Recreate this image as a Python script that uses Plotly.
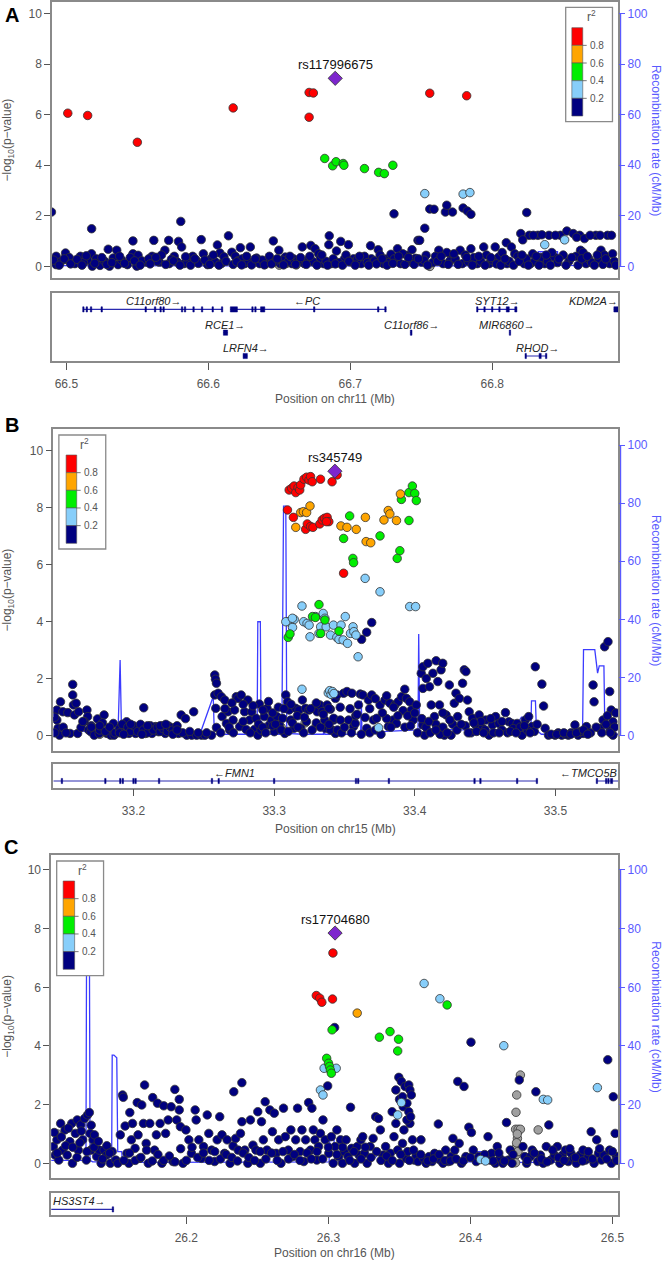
import plotly.graph_objects as go

# ======================= DATA =======================
# ---------- Panel A (chr11) ----------
A_xrange = [66.4899, 66.8887]
A_xticks = [66.5, 66.6, 66.7, 66.8]
A_xtitle = "Position on chr11 (Mb)"
A_lead = (66.6894, 7.44)
A_lead_name = "rs117996675"
A_red = [(66.501, 6.06), (66.515, 5.97), (66.550, 4.91), (66.6175, 6.27), (66.671, 6.88),
         (66.674, 6.86), (66.671, 5.90), (66.756, 6.85), (66.782, 6.75)]
A_orange = []
A_green = [(66.682, 4.27), (66.6876, 3.98), (66.690, 4.14), (66.695, 4.07), (66.6955, 4.0),
           (66.710, 3.87), (66.720, 3.72), (66.724, 3.67), (66.730, 4.0)]
A_lblue = [(66.7525, 2.88), (66.7795, 2.86), (66.7843, 2.92), (66.837, 0.86), (66.851, 1.05)]
A_gray = [(66.640, 0.08), (66.645, 0.15), (66.650, 0.05), (66.655, 0.12), (66.662, 0.06), (66.7561, 0.0)]
A_navy = [
    (66.4895, 2.15), (66.5178, 1.49), (66.5806, 1.78), (66.7308, 2.08), (66.7525, 1.51), (66.7477, 1.03),
    (66.7560, 2.27), (66.7590, 2.26), (66.7670, 2.15), (66.7680, 2.42), (66.7720, 2.15), (66.7795, 2.31),
    (66.7825, 2.19), (66.7850, 2.06), (66.8243, 2.13),
    (66.4928, 0.40), (66.4928, 0.07), (66.4994, 0.53), (66.5000, 0.27), (66.5060, 0.11), (66.5099, 0.40),
    (66.5150, 0.24), (66.5177, 0.50), (66.5183, 0.01), (66.5237, 0.04), (66.5295, 0.68), (66.5304, 0.01),
    (66.5355, 0.64), (66.5364, 0.07), (66.5430, 0.07), (66.5469, 1.01), (66.5469, 0.50), (66.5496, 0.01),
    (66.5505, 0.44), (66.5565, 0.17), (66.5616, 1.03), (66.5604, 0.40), (66.5655, 0.17), (66.5694, 0.64),
    (66.5721, 1.03), (66.5724, 0.11), (66.5760, 0.40), (66.5790, 0.99), (66.5812, 0.77), (66.5827, 0.11),
    (66.5866, 0.32), (66.5914, 0.24), (66.5950, 1.06), (66.5965, 0.50), (66.5995, 0.07), (66.6064, 0.85),
    (66.6082, 0.53), (66.6091, 0.11), (66.6142, 1.21), (66.6166, 0.56), (66.6190, 0.40), (66.6226, 0.74),
    (66.6256, 0.11), (66.6296, 0.77), (66.6317, 0.17), (66.6362, 0.11), (66.6416, 0.17), (66.6458, 1.01),
    (66.6497, 0.64), (66.6506, 0.11), (66.6542, 0.37), (66.6590, 0.11), (66.6662, 0.77), (66.6677, 0.11),
    (66.6722, 0.83), (66.6752, 0.70), (66.6777, 0.50), (66.6813, 0.11), (66.6852, 1.21), (66.6849, 0.86),
    (66.6864, 0.11), (66.6903, 0.61), (66.6933, 0.99), (66.6957, 0.28), (66.6987, 0.86), (66.7023, 0.30),
    (66.7077, 0.11), (66.7143, 0.82), (66.7149, 0.30), (66.7197, 0.66), (66.7233, 0.11), (66.7248, 0.29),
    (66.7287, 0.48), (66.7333, 0.70), (66.7354, 0.11), (66.7399, 0.44), (66.7435, 0.66), (66.7489, 1.03),
    (66.7504, 0.17), (66.7534, 0.44), (66.7624, 0.64), (66.7654, 0.11), (66.7714, 0.37), (66.7774, 0.64),
    (66.7789, 0.11), (66.7850, 0.70), (66.7895, 0.11), (66.7940, 0.77), (66.7979, 0.11), (66.8021, 0.77),
    (66.8045, 0.37), (66.8099, 0.94), (66.8105, 0.11), (66.8135, 0.77), (66.8159, 0.50), (66.8201, 1.30),
    (66.8225, 0.11), (66.8261, 1.23), (66.8270, 0.11), (66.8285, 0.50), (66.8322, 1.23), (66.8370, 0.11),
    (66.8400, 1.23), (66.8436, 0.37), (66.8481, 1.23), (66.8526, 1.40), (66.8571, 1.30), (66.8616, 1.23),
    (66.8622, 0.64), (66.8661, 0.11), (66.8730, 1.23), (66.8766, 0.64), (66.8812, 1.23), (66.8827, 0.11),
    (66.8848, 0.50), (66.8215, 1.05), (66.8290, 1.23), (66.8350, 1.25), (66.8445, 1.23), (66.8595, 1.15),
    (66.8650, 1.10), (66.8690, 1.23), (66.8760, 1.23), (66.8840, 1.23),
    (66.4960, 0.18), (66.5020, 0.35), (66.5120, 0.15), (66.5210, 0.30), (66.5270, 0.20), (66.5330, 0.33),
    (66.5390, 0.25), (66.5450, 0.35), (66.5530, 0.22), (66.5580, 0.30), (66.5640, 0.20), (66.5670, 0.45),
    (66.5740, 0.28), (66.5780, 0.18), (66.5850, 0.15), (66.5890, 0.40), (66.5930, 0.12), (66.6020, 0.30),
    (66.6050, 0.18), (66.6110, 0.38), (66.6210, 0.22), (66.6240, 0.30), (66.6280, 0.20), (66.6340, 0.33),
    (66.6380, 0.25), (66.6430, 0.40), (66.6470, 0.20), (66.6520, 0.25), (66.6560, 0.18), (66.6600, 0.30),
    (66.6630, 0.22), (66.6700, 0.25), (66.6740, 0.18), (66.6790, 0.33), (66.6830, 0.20), (66.6880, 0.30),
    (66.6920, 0.15), (66.6970, 0.45), (66.7000, 0.18), (66.7050, 0.28), (66.7100, 0.40), (66.7120, 0.15),
    (66.7170, 0.22), (66.7210, 0.45), (66.7270, 0.15), (66.7310, 0.30), (66.7370, 0.50), (66.7420, 0.20),
    (66.7460, 0.32), (66.7520, 0.25), (66.7580, 0.15), (66.7600, 0.40), (66.7680, 0.55), (66.7700, 0.20),
    (66.7740, 0.30), (66.7810, 0.45), (66.7830, 0.20), (66.7870, 0.35), (66.7920, 0.20), (66.7960, 0.45),
    (66.8000, 0.25), (66.8070, 0.55), (66.8120, 0.20), (66.8180, 0.40), (66.8240, 0.30), (66.8300, 0.20),
    (66.8340, 0.35), (66.8390, 0.20), (66.8420, 0.55), (66.8460, 0.15), (66.8500, 0.45), (66.8540, 0.20),
    (66.8590, 0.40), (66.8640, 0.55), (66.8680, 0.30), (66.8700, 0.15), (66.8750, 0.30), (66.8790, 0.45),
    (66.8860, 0.20),
    (66.4910, 0.25), (66.4950, 0.05), (66.4985, 0.30), (66.5030, 0.10), (66.5075, 0.28), (66.5110, 0.05),
    (66.5140, 0.42), (66.5200, 0.12), (66.5250, 0.35), (66.5285, 0.08), (66.5320, 0.15), (66.5375, 0.40),
    (66.5410, 0.12), (66.5480, 0.22), (66.5520, 0.05), (66.5590, 0.10), (66.5630, 0.36), (66.5700, 0.08),
    (66.5755, 0.22), (66.5800, 0.05), (66.5840, 0.38), (66.5875, 0.05), (66.5905, 0.30), (66.5975, 0.25),
    (66.6010, 0.08), (66.6035, 0.45), (66.6075, 0.05), (66.6125, 0.20), (66.6175, 0.08), (66.6200, 0.18),
    (66.6235, 0.06), (66.6270, 0.40), (66.6305, 0.06), (66.6330, 0.30), (66.6395, 0.06), (66.6445, 0.10),
    (66.6485, 0.30), (66.6530, 0.06), (66.6575, 0.40), (66.6615, 0.08), (66.6650, 0.35), (66.6690, 0.08),
    (66.6715, 0.40), (66.6765, 0.05), (66.6800, 0.45), (66.6840, 0.05), (66.6895, 0.10), (66.6945, 0.05),
    (66.6990, 0.20), (66.7035, 0.05), (66.7065, 0.40), (66.7130, 0.05), (66.7185, 0.10), (66.7225, 0.30),
    (66.7260, 0.05), (66.7300, 0.12), (66.7340, 0.40), (66.7385, 0.08), (66.7410, 0.35), (66.7450, 0.08),
    (66.7480, 0.30), (66.7545, 0.05), (66.7615, 0.20), (66.7640, 0.40), (66.7690, 0.08), (66.7730, 0.50),
    (66.7760, 0.08), (66.7820, 0.35), (66.7860, 0.05), (66.7905, 0.40), (66.7950, 0.05), (66.7990, 0.35),
    (66.8030, 0.10), (66.8060, 0.05), (66.8090, 0.30), (66.8150, 0.05), (66.8190, 0.20), (66.8210, 0.45),
    (66.8255, 0.05), (66.8310, 0.40), (66.8330, 0.05), (66.8380, 0.45), (66.8410, 0.05), (66.8470, 0.30),
    (66.8520, 0.05), (66.8560, 0.35), (66.8605, 0.05), (66.8630, 0.30), (66.8670, 0.40), (66.8720, 0.05),
    (66.8740, 0.45), (66.8780, 0.08), (66.8800, 0.30), (66.8870, 0.05)]
A_recomb_x = [66.4899, 66.60, 66.70, 66.80, 66.815, 66.825, 66.832, 66.8325, 66.846, 66.8465, 66.86, 66.8887]
A_recomb_y = [0.3, 0.2, 0.1, 0.2, 0.5, 1.2, 1.5, 5.8, 5.8, 0.5, 0.3, 0.2]
A_gene_names = ["C11orf80", "PC", "SYT12", "KDM2A", "RCE1", "C11orf86", "MIR6860", "LRFN4", "RHOD"]
A_gene_strand = ["+", "-", "+", "+", "+", "+", "+", "+", "+"]
A_gene_start = [66.512, 66.6155, 66.7895, 66.8857, 66.6106, 66.7423, 66.8122, 66.6245, 66.8234]
A_gene_end = [66.6100, 66.7254, 66.8174, 66.8887, 66.6136, 66.7435, 66.8128, 66.6275, 66.8385]
A_gene_row = [1, 1, 1, 1, 2, 2, 2, 3, 3]
A_gene_label_x = [66.5616, 66.6698, 66.8039, 66.8714, 66.6121, 66.7430, 66.8105, 66.6265, 66.8316]
A_gene_exons = [
    [66.512, 66.5144, 66.5174, 66.5249, 66.5559, 66.5625, 66.5664, 66.5685, 66.5815, 66.5836,
     66.5896, 66.5956, 66.6031, 66.6097],
    [(66.6155, 66.6205), 66.6311, 66.6332, (66.6368, 66.6398), 66.6746, 66.7197, 66.7248],
    [66.7895, 66.7946, 66.8000, 66.8051, (66.8099, 66.8120), (66.8159, 66.8174)],
    [(66.8857, 66.8887)],
    [(66.6106, 66.6136)],
    [(66.7423, 66.7435)],
    [66.8125],
    [(66.6245, 66.6275)],
    [66.8236, (66.8330, 66.8345), (66.8375, 66.8385)]]

# ---------- Panel B (chr15) ----------
B_xrange = [33.143, 33.5446]
B_xticks = [33.2, 33.3, 33.4, 33.5]
B_xtitle = "Position on chr15 (Mb)"
B_lead = (33.3432, 9.28)
B_lead_name = "rs345749"
B_red = [(33.3107, 8.62), (33.3125, 8.68), (33.3142, 8.76), (33.3154, 8.53), (33.3170, 8.71), (33.3182, 8.62),
         (33.3189, 8.80), (33.3212, 9.00), (33.3231, 9.07), (33.3248, 8.97), (33.3259, 9.09), (33.3271, 8.91),
         (33.3330, 9.00), (33.3412, 8.91), (33.3448, 9.15),
         (33.3095, 7.92), (33.3137, 7.66), (33.3224, 7.24), (33.3236, 7.43), (33.3259, 7.34), (33.3276, 7.31),
         (33.3325, 7.43), (33.3342, 7.57), (33.3358, 7.63), (33.3377, 7.66), (33.3389, 7.51), (33.3372, 7.51),
         (33.3494, 5.70)]
B_orange = [(33.3154, 7.31), (33.3189, 7.83), (33.3208, 7.86), (33.3231, 7.83), (33.3255, 8.06), (33.3475, 7.36),
            (33.3518, 7.31), (33.3584, 7.24), (33.3649, 7.66), (33.3654, 6.81), (33.3687, 6.77), (33.3781, 7.57),
            (33.3811, 7.90), (33.3823, 7.78), (33.3870, 7.55), (33.3898, 8.48)]
B_green = [(33.3537, 7.71), (33.3494, 6.92), (33.3560, 6.22), (33.3565, 6.07), (33.3753, 7.01), (33.3894, 6.49),
           (33.3875, 6.22), (33.3905, 8.29), (33.3959, 8.53), (33.3983, 8.76), (33.4000, 8.50), (33.4011, 8.25),
           (33.3959, 7.55),
           (33.3100, 3.45), (33.3113, 3.57), (33.3273, 4.18), (33.3294, 4.15), (33.3319, 4.60), (33.3331, 3.59),
           (33.3361, 4.06), (33.3461, 3.67)]
B_lblue = [(33.3647, 5.52), (33.3753, 5.05), (33.3964, 4.53), (33.4006, 4.53),
           (33.3100, 4.00), (33.3131, 3.80), (33.3143, 4.08), (33.3198, 4.55), (33.3210, 4.00), (33.3234, 3.94),
           (33.3255, 3.47), (33.3249, 3.88), (33.3294, 4.18), (33.3319, 3.59), (33.3331, 3.82), (33.3349, 4.29),
           (33.3361, 4.12), (33.3370, 3.82), (33.3401, 3.53), (33.3422, 3.88), (33.3446, 3.45), (33.3461, 3.38),
           (33.3476, 3.88), (33.3491, 3.36), (33.3506, 4.18), (33.3522, 3.24), (33.3543, 3.59), (33.3561, 3.82),
           (33.3567, 3.65), (33.3582, 3.53), (33.3597, 2.77), (33.3083, 4.00), (33.3130, 4.12),
           (33.3198, 1.63), (33.3385, 1.50), (33.3395, 1.58), (33.3405, 1.45), (33.3415, 1.55), (33.3425, 1.48),
           (33.3743, 0.28)]
B_gray = [(33.172, 0.12), (33.176, 0.05), (33.180, 0.10), (33.305, 0.30), (33.322, 0.45), (33.330, 0.35)]
B_navy = [
    (33.3622, 3.38), (33.3658, 3.63), (33.3694, 3.97),
    (33.1455, 0.90), (33.1455, 0.55), (33.1463, 0.26), (33.1474, 0.02), (33.1481, 1.19), (33.1498, 0.84),
    (33.1533, 0.81), (33.1549, 0.08), (33.1568, 1.80), (33.1568, 1.43), (33.1573, 1.08), (33.1580, 0.73),
    (33.1592, 1.14), (33.1603, 0.08), (33.1610, 0.84), (33.1627, 0.29), (33.1669, 0.90), (33.1674, 0.67),
    (33.1681, 0.20), (33.1697, 0.14), (33.1721, 0.02), (33.1744, 0.59), (33.1756, 0.08), (33.1791, 0.73),
    (33.1815, 0.08), (33.1838, 0.02), (33.1857, 0.43), (33.1862, 0.02), (33.1951, 0.49), (33.1944, 0.20),
    (33.1968, 0.08), (33.1991, 0.26), (33.2015, 0.08), (33.2038, 0.29), (33.2073, 0.98), (33.2085, 0.08),
    (33.2109, 0.26), (33.2132, 0.08), (33.2156, 0.32), (33.2179, 0.14), (33.2202, 0.34), (33.2226, 0.08),
    (33.2249, 0.34), (33.2273, 0.14), (33.2296, 0.29), (33.2320, 0.08), (33.2339, 0.73), (33.2379, 0.02),
    (33.2414, 0.02), (33.2428, 0.84), (33.2449, 0.02), (33.2484, 0.02), (33.2508, 0.02), (33.2555, 0.02),
    (33.2578, 2.13), (33.2583, 1.98), (33.2590, 1.84), (33.2578, 1.43), (33.2585, 0.96), (33.2590, 0.29),
    (33.2602, 1.49), (33.2625, 1.37), (33.2630, 0.67), (33.2649, 1.25), (33.2661, 0.43), (33.2672, 0.84),
    (33.2684, 0.20), (33.2708, 0.55), (33.2719, 0.90), (33.2731, 1.37), (33.2743, 1.31), (33.2755, 0.32),
    (33.2766, 1.43), (33.2790, 0.84), (33.2801, 0.22), (33.2813, 1.25), (33.2825, 0.55), (33.2841, 0.84),
    (33.2860, 0.22), (33.2872, 0.61), (33.2884, 0.02), (33.2895, 1.11), (33.2907, 0.20), (33.2931, 0.67),
    (33.2950, 0.96), (33.2966, 0.38), (33.2982, 0.55), (33.3001, 0.14), (33.3020, 0.67), (33.3036, 0.38),
    (33.3060, 0.61), (33.3076, 0.08), (33.3083, 1.43), (33.3095, 1.19), (33.3107, 0.90), (33.3118, 0.55),
    (33.3142, 0.26), (33.3154, 0.96), (33.3177, 0.90), (33.3189, 0.26), (33.3201, 1.25), (33.3224, 0.96),
    (33.3248, 0.90), (33.3283, 0.96), (33.3306, 0.84), (33.3325, 1.08), (33.3342, 0.84), (33.3365, 0.26),
    (33.3377, 1.08), (33.3400, 0.93), (33.3412, 0.20), (33.3424, 0.55), (33.3436, 0.08),
    (33.3389, 0.96), (33.3400, 0.20), (33.3424, 0.61), (33.3436, 1.31), (33.3447, 1.43), (33.3471, 0.55),
    (33.3494, 1.49), (33.3518, 1.55), (33.3530, 0.55), (33.3553, 1.49), (33.3565, 0.32), (33.3577, 0.43),
    (33.3600, 1.08), (33.3612, 1.46), (33.3631, 1.43), (33.3647, 0.64), (33.3659, 0.26), (33.3671, 1.25),
    (33.3694, 1.43), (33.3706, 0.55), (33.3729, 0.61), (33.3753, 1.08), (33.3788, 1.25), (33.3812, 0.32),
    (33.3823, 1.14), (33.3847, 0.55), (33.3859, 1.08), (33.3870, 0.43), (33.3882, 1.19), (33.3906, 1.37),
    (33.3917, 0.88), (33.3929, 1.63), (33.3941, 1.31), (33.3964, 1.19), (33.3976, 0.90), (33.3988, 0.55),
    (33.4011, 1.08), (33.4046, 2.19), (33.4058, 2.42), (33.4058, 1.66), (33.4058, 0.38), (33.4070, 0.02),
    (33.4082, 2.01), (33.4093, 2.54), (33.4105, 1.72), (33.4117, 1.08), (33.4129, 2.19), (33.4140, 0.67),
    (33.4152, 2.63), (33.4164, 1.90), (33.4176, 1.08), (33.4187, 2.31), (33.4187, 0.26), (33.4199, 2.54),
    (33.4211, 0.02), (33.4223, 0.73), (33.4246, 1.78), (33.4258, 0.02), (33.4281, 1.14), (33.4293, 1.49),
    (33.4305, 0.67), (33.4317, 1.31), (33.4340, 1.84), (33.4352, 2.31), (33.4364, 2.25), (33.4375, 1.25),
    (33.4387, 0.84), (33.4411, 0.61), (33.4434, 0.38), (33.4458, 0.73), (33.4481, 0.26), (33.4505, 0.55),
    (33.4528, 0.02), (33.4552, 0.38), (33.4575, 0.67), (33.4598, 0.43), (33.4645, 0.81), (33.4669, 0.49),
    (33.4692, 0.43), (33.4728, 0.43), (33.4763, 0.02), (33.4786, 0.55), (33.4810, 0.67), (33.4833, 0.32),
    (33.4857, 2.42), (33.4904, 1.81), (33.4916, 1.04), (33.4927, 0.26), (33.4951, 0.02), (33.4998, 0.02),
    (33.5045, 0.02), (33.5092, 0.02), (33.5139, 0.38), (33.5162, 0.02), (33.5197, 0.08), (33.5221, 0.32),
    (33.5268, 1.78), (33.5275, 1.19), (33.5315, 0.26), (33.5339, 0.55), (33.5350, 3.12), (33.5374, 3.30),
    (33.5386, 1.55), (33.5397, 0.90), (33.5409, 0.49), (33.5409, 0.02),
    (33.150, 0.30), (33.152, 0.10), (33.165, 0.50), (33.170, 0.35), (33.176, 0.20), (33.178, 0.45),
    (33.180, 0.15), (33.183, 0.30), (33.187, 0.10), (33.190, 0.25), (33.192, 0.40), (33.196, 0.30),
    (33.198, 0.15), (33.200, 0.35), (33.203, 0.15), (33.205, 0.40), (33.207, 0.20), (33.210, 0.10),
    (33.212, 0.35), (33.214, 0.20), (33.217, 0.30), (33.219, 0.15), (33.221, 0.25), (33.224, 0.15),
    (33.226, 0.30), (33.228, 0.20), (33.231, 0.35), (33.235, 0.10), (33.240, 0.15), (33.246, 0.10),
    (33.262, 0.10), (33.268, 0.30), (33.271, 0.10), (33.278, 0.50), (33.283, 0.10), (33.289, 0.40),
    (33.292, 0.30), (33.294, 0.10), (33.299, 0.35), (33.301, 0.40), (33.305, 0.20), (33.310, 0.15),
    (33.313, 0.45), (33.317, 0.30), (33.321, 0.10), (33.323, 0.50), (33.327, 0.20), (33.330, 0.45),
    (33.333, 0.30), (33.336, 0.55), (33.339, 0.40), (33.345, 0.20), (33.348, 0.10), (33.350, 0.30),
    (33.355, 0.10), (33.358, 0.70), (33.362, 0.05), (33.368, 0.10), (33.372, 0.20), (33.376, 0.05),
    (33.380, 0.60), (33.383, 0.30), (33.388, 0.70), (33.393, 0.30), (33.397, 0.35), (33.402, 0.10),
    (33.405, 0.60), (33.408, 0.30), (33.411, 0.10), (33.415, 0.40), (33.418, 0.05), (33.420, 0.30),
    (33.423, 0.10), (33.427, 0.40), (33.430, 0.20), (33.436, 0.35), (33.440, 0.10), (33.444, 0.15),
    (33.447, 0.50), (33.450, 0.20), (33.456, 0.10), (33.462, 0.20), (33.466, 0.10), (33.470, 0.25),
    (33.475, 0.30), (33.480, 0.20), (33.485, 0.15), (33.497, 0.05), (33.502, 0.10), (33.507, 0.05),
    (33.511, 0.10), (33.518, 0.15), (33.525, 0.10), (33.529, 0.30), (33.533, 0.10), (33.537, 0.70),
    (33.539, 0.20), (33.542, 0.30), (33.543, 0.80), (33.144, 0.65), (33.144, 0.10),
    (33.2990, 0.80), (33.3030, 1.00), (33.3070, 0.95), (33.3120, 1.10), (33.3165, 0.70), (33.3215, 0.65),
    (33.3260, 0.95), (33.3300, 1.15), (33.3350, 0.75), (33.3470, 1.00), (33.3540, 0.95), (33.3590, 0.75),
    (33.3680, 0.95), (33.3720, 1.30), (33.3770, 0.80), (33.3800, 1.40), (33.3850, 1.00), (33.3950, 0.70),
    (33.4000, 0.80), (33.2650, 0.95), (33.2700, 1.15), (33.2780, 1.10), (33.2850, 1.05), (33.2920, 0.90),
    (33.2960, 1.20), (33.1640, 0.50), (33.1700, 0.30), (33.1760, 0.35), (33.1900, 0.10), (33.1930, 0.05),
    (33.1980, 0.40), (33.2060, 0.05), (33.2100, 0.35), (33.2190, 0.35), (33.2230, 0.40), (33.2280, 0.05),
    (33.2310, 0.20), (33.2370, 0.60), (33.2520, 0.10), (33.4100, 0.50), (33.4150, 0.20), (33.4200, 0.80),
    (33.4250, 0.55), (33.4330, 0.40), (33.4380, 0.10), (33.4420, 0.45), (33.4490, 0.10), (33.4540, 0.60),
    (33.4600, 0.10), (33.4620, 0.50), (33.4680, 0.15), (33.4720, 0.10), (33.4780, 0.35), (33.4820, 0.10),
    (33.4870, 0.40), (33.5010, 0.05), (33.5060, 0.10), (33.5110, 0.05), (33.5150, 0.10), (33.5200, 0.20),
    (33.5230, 0.05), (33.5360, 0.40), (33.5390, 0.10)]
B_recomb_x = [33.143, 33.150, 33.165, 33.1670, 33.1675, 33.170, 33.189, 33.1905, 33.1915, 33.194,
              33.230, 33.2476, 33.2567, 33.2575, 33.275, 33.2879, 33.2884, 33.2902, 33.2907, 33.3055,
              33.3067, 33.3083, 33.3090, 33.320, 33.3205, 33.3210, 33.335, 33.3355, 33.3360, 33.3615,
              33.3620, 33.3625, 33.380, 33.4023, 33.4028, 33.4035, 33.430, 33.470, 33.476, 33.4785,
              33.4826, 33.4830, 33.4858, 33.4865, 33.490, 33.5193, 33.5200, 33.5280, 33.5300, 33.5312,
              33.5345, 33.5352, 33.5446]
B_recomb_y = [2.0, 1.8, 1.5, 8.0, 1.0, 0.8, 0.8, 26.0, 1.0, 0.6,
              0.5, 1.0, 13.5, 0.5, 0.4, 0.5, 39.2, 39.2, 0.5, 0.5,
              79.0, 79.0, 0.8, 0.5, 3.5, 0.5, 0.5, 3.5, 0.5, 0.5,
              12.0, 0.5, 1.5, 2.0, 35.0, 2.5, 2.0, 2.0, 6.5, 3.0,
              3.0, 12.0, 12.0, 2.0, 0.5, 0.5, 29.6, 29.6, 21.5, 24.0,
              24.0, 0.5, 0.5]
B_gene_names = ["FMN1", "TMCO5B"]
B_gene_strand = ["-", "-"]
B_gene_start = [33.1000, 33.5295]
B_gene_end = [33.4871, 33.5500]
B_gene_row = [1, 1]
B_gene_label_x = [33.2719, 33.5234]
B_gene_exons = [
    [33.1491, 33.1800, 33.1906, 33.1924, 33.2000, 33.2015, 33.2182, 33.2558, 33.2606, 33.3000,
     33.3582, 33.3598, 33.3816, (33.4420, 33.4430), (33.4462, 33.4472), 33.4728, (33.4866, 33.4871)],
    [(33.5292, 33.5298), (33.5356, 33.5366), (33.5372, 33.5382), (33.5392, 33.5407)]]

# ---------- Panel C (chr16) ----------
C_xrange = [26.1048, 26.504]
C_xticks = [26.2, 26.3, 26.4, 26.5]
C_xtitle = "Position on chr16 (Mb)"
C_lead = (26.3047, 7.85)
C_lead_name = "rs17704680"
C_red = [(26.3032, 7.17), (26.2915, 5.72), (26.2939, 5.63), (26.2954, 5.49), (26.3029, 5.60)]
C_orange = [(26.3203, 5.12)]
C_green = [(26.3836, 5.40), (26.3026, 4.55), (26.3359, 4.30), (26.3434, 4.49), (26.3494, 4.23), (26.3488, 3.83),
           (26.2988, 3.58), (26.3001, 3.41), (26.3008, 3.30), (26.3014, 3.18), (26.3021, 3.07)]
C_lblue = [(26.3674, 6.13), (26.3785, 5.61), (26.4235, 4.01), (26.2970, 3.24), (26.3055, 3.24), (26.2944, 2.50),
           (26.2962, 2.33), (26.3514, 2.07), (26.3488, 1.65), (26.4072, 0.13), (26.4106, 0.08), (26.4513, 2.18),
           (26.4544, 2.16), (26.4894, 2.58)]
C_gray = [(26.4352, 3.01), (26.4326, 2.33), (26.4321, 1.74), (26.4318, 1.16), (26.4336, 1.16), (26.4352, 1.16),
          (26.4331, 0.85), (26.4326, 0.57), (26.4321, 0.28), (26.4477, 1.14), (26.1094, 1.00), (26.4318, 0.02),
          (26.4330, 1.00), (26.4325, 0.70), (26.4335, 0.40)]
C_navy = [
    (26.3044, 4.63), (26.4004, 4.13),
    (26.1063, 0.57), (26.1076, 0.28), (26.1089, 0.80), (26.1102, 0.11), (26.1115, 1.36), (26.1128, 0.45),
    (26.1146, 1.14), (26.1161, 0.28), (26.1180, 0.74), (26.1193, 1.36), (26.1198, 0.00), (26.1219, 1.02),
    (26.1232, 1.48), (26.1239, 0.45), (26.1257, 1.31), (26.1270, 0.80), (26.1283, 1.53), (26.1296, 0.11),
    (26.1304, 1.65), (26.1317, 1.73), (26.1322, 1.02), (26.1328, 0.45), (26.1343, 0.80), (26.1353, 0.97),
    (26.1369, 0.23), (26.1387, 0.45), (26.1400, 0.00), (26.1421, 0.45), (26.1439, 0.28), (26.1465, 0.00),
    (26.1478, 0.40), (26.1504, 0.11), (26.1517, 0.00), (26.1535, 0.97), (26.1551, 2.33), (26.1556, 2.25),
    (26.1569, 1.27), (26.1582, 0.34), (26.1595, 0.00), (26.1602, 1.73), (26.1613, 0.80), (26.1621, 1.36),
    (26.1639, 0.51), (26.1654, 2.07), (26.1660, 0.97), (26.1673, 0.17), (26.1686, 1.99), (26.1698, 1.36),
    (26.1706, 2.67), (26.1717, 0.68), (26.1732, 0.00), (26.1743, 1.36), (26.1763, 2.24), (26.1776, 0.45),
    (26.1789, 0.97), (26.1797, 2.05), (26.1815, 1.36), (26.1828, 0.00), (26.1841, 1.96), (26.1854, 1.02),
    (26.1872, 1.48), (26.1893, 1.93), (26.1906, 0.06), (26.1919, 2.52), (26.1932, 1.48), (26.1950, 2.18),
    (26.1950, 1.82), (26.1958, 1.25), (26.1976, 0.00), (26.1997, 1.14), (26.2018, 0.80), (26.2036, 0.34),
    (26.2062, 1.82), (26.2069, 1.48), (26.2088, 0.80), (26.2106, 0.17), (26.2121, 0.57), (26.2147, 1.65),
    (26.2158, 1.02), (26.2178, 0.45), (26.2199, 0.06), (26.2217, 0.80), (26.2235, 1.59), (26.2251, 0.97),
    (26.2269, 0.34), (26.2287, 0.80), (26.2308, 0.00), (26.2329, 0.59), (26.2334, 2.44), (26.2347, 0.85),
    (26.2365, 0.45), (26.2381, 1.02), (26.2391, 2.75), (26.2391, 1.42), (26.2412, 0.45), (26.2433, 0.00),
    (26.2451, 1.48), (26.2469, 0.62), (26.2490, 0.45), (26.2503, 1.76), (26.2521, 0.00), (26.2529, 1.42),
    (26.2542, 0.80), (26.2555, 2.10), (26.2568, 0.45), (26.2588, 1.82), (26.2606, 1.08), (26.2619, 1.71),
    (26.2632, 0.34), (26.2650, 0.80), (26.2666, 0.00), (26.2684, 1.88), (26.2697, 0.91), (26.2718, 0.45),
    (26.2736, 1.14), (26.2749, 0.23), (26.2770, 0.80), (26.2783, 1.88), (26.2801, 0.40), (26.2814, 1.14),
    (26.2827, 0.06), (26.2840, 0.80), (26.2861, 2.07), (26.2874, 0.45), (26.2884, 1.88), (26.2894, 1.14),
    (26.2905, 0.80), (26.2918, 0.11), (26.2931, 0.57), (26.2944, 1.02), (26.2962, 1.48), (26.2977, 0.80),
    (26.2995, 2.64), (26.3003, 0.34), (26.3021, 0.91), (26.3034, 0.00), (26.3047, 0.57), (26.3060, 1.14),
    (26.3073, 0.23), (26.3086, 0.80), (26.3099, 0.00), (26.3112, 0.40), (26.3125, 0.80), (26.3138, 0.23),
    (26.3156, 1.91), (26.3164, 0.51), (26.3185, 0.00), (26.3203, 0.57), (26.3216, 0.28), (26.3229, 0.80),
    (26.3242, 0.91), (26.3255, 0.34), (26.3273, 0.00), (26.3294, 0.57), (26.3315, 0.85), (26.3333, 1.59),
    (26.3353, 1.53), (26.3366, 1.14), (26.3385, 0.28), (26.3403, 0.57), (26.3423, 0.00), (26.3436, 0.34),
    (26.3449, 1.76), (26.3462, 0.91), (26.3475, 1.36), (26.3488, 0.45), (26.3501, 0.00), (26.3522, 0.68),
    (26.3532, 1.14), (26.3548, 0.17), (26.3558, 0.40), (26.3574, 1.36), (26.3592, 0.80), (26.3605, 0.11),
    (26.3618, 0.28), (26.3631, 0.06), (26.3652, 0.80), (26.3670, 0.17), (26.3688, 0.00), (26.3709, 0.23),
    (26.3730, 0.06), (26.3748, 0.34), (26.3774, 1.34), (26.3787, 0.11), (26.3807, 0.00), (26.3826, 0.45),
    (26.3844, 0.06), (26.3864, 0.23), (26.3877, 0.85), (26.3890, 0.45), (26.3911, 2.79), (26.3921, 0.68),
    (26.3937, 0.00), (26.3955, 2.62), (26.3968, 0.23), (26.3989, 1.23), (26.4007, 1.05), (26.4020, 0.45),
    (26.4041, 0.06), (26.4059, 0.23), (26.4124, 0.91), (26.4137, 0.11), (26.4150, 0.34), (26.4176, 0.00),
    (26.4189, 0.57), (26.4207, 0.17), (26.4228, 0.00), (26.4254, 1.39), (26.4267, 0.11), (26.4280, 0.45),
    (26.4293, 0.00), (26.4344, 2.84), (26.4370, 0.57), (26.4383, 0.23), (26.4396, 0.00), (26.4422, 0.23),
    (26.4435, 0.45), (26.4461, 2.44), (26.4474, 0.06), (26.4493, 0.28), (26.4513, 0.00), (26.4534, 0.57),
    (26.4552, 1.31), (26.4565, 0.11), (26.4591, 0.28), (26.4612, 0.57), (26.4630, 0.00), (26.4648, 0.28),
    (26.4669, 0.45), (26.4689, 0.06), (26.4708, 0.34), (26.4726, 0.17), (26.4746, 0.00), (26.4772, 0.28),
    (26.4793, 0.45), (26.4811, 0.11), (26.4829, 0.23), (26.4850, 1.08), (26.4871, 0.00), (26.4889, 0.80),
    (26.4902, 0.34), (26.4923, 0.11), (26.4941, 0.28), (26.4967, 3.53), (26.4980, 0.45), (26.4993, 0.00),
    (26.5006, 2.27), (26.5019, 1.02), (26.5027, 0.23),
    (26.3496, 2.93), (26.3514, 2.79), (26.3475, 2.50), (26.3540, 2.62), (26.3566, 2.67), (26.3574, 2.50),
    (26.3584, 2.33), (26.3501, 2.18), (26.3522, 2.27), (26.3553, 1.48), (26.3527, 1.93), (26.3553, 2.05),
    (26.3566, 1.76), (26.3579, 1.59),
    (26.1070, 1.05), (26.1090, 0.35), (26.1120, 0.90), (26.1150, 0.60), (26.1170, 1.20), (26.1200, 0.55),
    (26.1230, 0.20), (26.1250, 0.70), (26.1260, 1.10), (26.1300, 0.40), (26.1330, 1.30), (26.1350, 0.55),
    (26.1380, 0.75), (26.1410, 0.15), (26.1440, 0.60), (26.1460, 0.35),
    (26.1560, 0.10), (26.1600, 0.35), (26.1640, 0.10), (26.1680, 0.20), (26.1720, 0.45), (26.1760, 0.08),
    (26.1800, 0.30), (26.1840, 0.10), (26.1880, 0.25), (26.1920, 0.05), (26.1960, 0.50), (26.2000, 0.10),
    (26.2040, 0.55), (26.2080, 0.20), (26.2120, 0.35), (26.2160, 0.10), (26.2200, 0.40), (26.2240, 0.15),
    (26.2280, 0.30), (26.2320, 0.20), (26.2360, 0.08), (26.2400, 0.35), (26.2440, 0.20), (26.2480, 0.10),
    (26.2520, 0.40), (26.2560, 0.15), (26.2600, 0.35), (26.2640, 0.10), (26.2680, 0.40), (26.2720, 0.15),
    (26.2760, 0.30), (26.2800, 0.10), (26.2850, 0.35), (26.2880, 0.15), (26.2920, 0.40), (26.2960, 0.15),
    (26.3000, 0.55), (26.3060, 0.30), (26.3100, 0.55), (26.3150, 0.10), (26.3180, 0.40), (26.3230, 0.15),
    (26.3260, 0.55), (26.3300, 0.20), (26.3340, 0.40), (26.3370, 0.10), (26.3410, 0.25), (26.3450, 0.10),
    (26.3510, 0.30), (26.3570, 0.10), (26.3600, 0.45), (26.3650, 0.30), (26.3700, 0.08), (26.3740, 0.15),
    (26.3780, 0.30), (26.3820, 0.10), (26.3860, 0.08), (26.3900, 0.15), (26.3950, 0.08), (26.4000, 0.20),
    (26.4100, 0.30), (26.4160, 0.08), (26.4200, 0.35), (26.4240, 0.08), (26.4300, 0.30), (26.4400, 0.10),
    (26.4450, 0.35), (26.4500, 0.15), (26.4540, 0.05), (26.4580, 0.45), (26.4620, 0.20), (26.4660, 0.10),
    (26.4700, 0.50), (26.4740, 0.20), (26.4790, 0.08), (26.4830, 0.40), (26.4860, 0.15), (26.4910, 0.50),
    (26.4960, 0.15), (26.5000, 0.40), (26.5030, 0.10)]
C_recomb_x = [26.1048, 26.125, 26.1293, 26.1297, 26.1318, 26.1322, 26.134, 26.1474, 26.1478, 26.1490,
              26.1510, 26.1517, 26.1545, 26.1550, 26.20, 26.26, 26.3005, 26.3010, 26.3040, 26.3045,
              26.330, 26.3350, 26.3400, 26.3420, 26.4040, 26.4050, 26.4120, 26.4130, 26.45, 26.504]
C_recomb_y = [1.0, 1.0, 1.0, 66.0, 66.0, 1.0, 0.5, 0.5, 36.9, 36.9,
              36.0, 4.0, 4.0, 0.3, 0.3, 0.5, 0.5, 8.0, 8.0, 0.5,
              0.5, 3.0, 3.0, 0.5, 0.5, 4.0, 4.0, 0.3, 0.3, 0.3]
C_gene_names = ["HS3ST4"]
C_gene_strand = ["+"]
C_gene_start = [26.0500]
C_gene_end = [26.1488]
C_gene_row = [1]
C_gene_label_x = [26.1246]
C_gene_exons = [[(26.1478, 26.1488)]]

R2_LABELS = ["0.8", "0.6", "0.4", "0.2"]

# ======================= STYLE / LAYOUT =======================
W, H = 671, 1263
FONT = "Liberation Sans, Arial, sans-serif"
BOX = "#8a8a8a"
GRAYTXT = "#555555"
BLUE = "#5a5aff"
RLINE = "#3c3cff"
GENE = "#2a2ab0"
EXON = "#000080"
COL = dict(navy="#000080", lblue="#87CEFA", green="#00EE00", orange="#FFA500",
           red="#FF0000", gray="#A0A0A0", purple="#7D26CD")


def fx(p):
    return p / W


def fy(p):
    return 1 - p / H


def unzip(pairs):
    return [p[0] for p in pairs], [p[1] for p in pairs]


panels = [
    dict(letter="A", letter_pos=(12, 15), main=(52.5, 623.7, 1.7, 278.3), gene=(292.7, 361.0),
         yl=[-0.47, 10.47], yr=[-4.7, 104.7], title_y=399,
         legend_box=(570.8, 618.0, 7.3, 121.7), legend_col=(577.0, 588.0, 27.7, 116.0),
         xr=A_xrange, xt=A_xticks, xtitle=A_xtitle, lead=A_lead, lead_name=A_lead_name,
         groups=[("gray", A_gray), ("navy", A_navy), ("lblue", A_lblue), ("green", A_green),
                 ("orange", A_orange), ("red", A_red)],
         rx=A_recomb_x, ry=A_recomb_y,
         genes=(A_gene_names, A_gene_strand, A_gene_start, A_gene_end, A_gene_row, A_gene_label_x, A_gene_exons)),
    dict(letter="B", letter_pos=(12, 425), main=(53.8, 623.7, 429.3, 750.7), gene=(764.3, 787.7),
         yl=[-0.526, 10.75], yr=[-5.16, 105.4], title_y=829,
         legend_box=(59.4, 106.7, 435.0, 549.0), legend_col=(66.7, 77.4, 455.0, 543.3),
         xr=B_xrange, xt=B_xticks, xtitle=B_xtitle, lead=B_lead, lead_name=B_lead_name,
         groups=[("gray", B_gray), ("navy", B_navy), ("lblue", B_lblue), ("green", B_green),
                 ("orange", B_orange), ("red", B_red)],
         rx=B_recomb_x, ry=B_recomb_y,
         genes=(B_gene_names, B_gene_strand, B_gene_start, B_gene_end, B_gene_row, B_gene_label_x, B_gene_exons)),
    dict(letter="C", letter_pos=(11, 847), main=(51.6, 623.7, 855.0, 1177.7), gene=(1192.7, 1215.0),
         yl=[-0.49, 10.51], yr=[-4.9, 105.1], title_y=1252.5,
         legend_box=(57.2, 104.5, 861.0, 975.7), legend_col=(63.7, 75.3, 881.0, 969.3),
         xr=C_xrange, xt=C_xticks, xtitle=C_xtitle, lead=C_lead, lead_name=C_lead_name,
         groups=[("gray", C_gray), ("navy", C_navy), ("lblue", C_lblue), ("green", C_green),
                 ("orange", C_orange), ("red", C_red)],
         rx=C_recomb_x, ry=C_recomb_y,
         genes=(C_gene_names, C_gene_strand, C_gene_start, C_gene_end, C_gene_row, C_gene_label_x, C_gene_exons)),
]

fig = go.Figure()
shapes, annos, layout = [], [], {}


def ref(prefix, n):
    return prefix if n == 1 else f"{prefix}{n}"


def key(prefix, n):
    return prefix + "axis" + ("" if n == 1 else str(n))


def paper_text(x, y, text, size, color, angle=0, xanchor="center", bold=False):
    return dict(x=fx(x), y=fy(y), xref="paper", yref="paper", text=text, showarrow=False,
                xanchor=xanchor, yanchor="middle", textangle=angle,
                font=dict(size=size, color=color, family=FONT, weight="bold" if bold else "normal"))


for i, P in enumerate(panels):
    xm, xg = 2 * i + 1, 2 * i + 2
    yrn, ypn, ygn = 3 * i + 1, 3 * i + 2, 3 * i + 3
    L, R, T, B = P["main"]
    gt, gb = P["gene"]
    xdom = [fx(L), fx(R)]

    # ---- axes ----
    layout[key("x", xm)] = dict(domain=xdom, range=P["xr"], anchor=ref("y", yrn), showticklabels=False,
                                ticks="", showline=True, mirror=True, linecolor=BOX, linewidth=1.5,
                                showgrid=False, zeroline=False)
    layout[key("y", yrn)] = dict(domain=[fy(B), fy(T)], range=P["yr"], side="right", anchor=ref("x", xm),
                                 tickvals=[0, 20, 40, 60, 80, 100], ticks="outside", ticklen=6,
                                 tickcolor=BLUE, tickwidth=1.2, tickfont=dict(color=BLUE, size=12, family=FONT),
                                 showline=False, showgrid=False, zeroline=False)
    layout[key("y", ypn)] = dict(domain=[fy(B), fy(T)], range=P["yl"], side="left", anchor=ref("x", xm),
                                 overlaying=ref("y", yrn), tickvals=[0, 2, 4, 6, 8, 10], ticks="outside",
                                 ticklen=6, tickcolor=GRAYTXT, tickwidth=1,
                                 tickfont=dict(color=GRAYTXT, size=12, family=FONT),
                                 showline=True, mirror=True, linecolor=BOX, linewidth=1.5,
                                 showgrid=False, zeroline=False)
    layout[key("x", xg)] = dict(domain=xdom, range=P["xr"], anchor=ref("y", ygn),
                                tickvals=P["xt"], ticktext=[f"{v:.1f}" for v in P["xt"]],
                                ticks="outside", ticklen=7, tickcolor=GRAYTXT, tickwidth=1,
                                ticklabelstandoff=4,
                                tickfont=dict(color=GRAYTXT, size=12, family=FONT),
                                showline=True, mirror=True, linecolor=BOX, linewidth=1.5,
                                showgrid=False, zeroline=False)
    layout[key("y", ygn)] = dict(domain=[fy(gb), fy(gt)], range=[0, 1], anchor=ref("x", xg),
                                 showticklabels=False, ticks="", showline=True, mirror=True,
                                 linecolor=BOX, linewidth=1.5, showgrid=False, zeroline=False)

    # ---- recombination line (base axis, drawn below points) ----
    fig.add_trace(go.Scatter(x=P["rx"], y=P["ry"], mode="lines", line=dict(color=RLINE, width=1.3),
                             xaxis=ref("x", xm), yaxis=ref("y", yrn), hoverinfo="skip"))

    # ---- SNP points ----
    for cname, pts in P["groups"]:
        if not pts:
            continue
        xs, ys = unzip(pts)
        fig.add_trace(go.Scatter(x=xs, y=ys, mode="markers", xaxis=ref("x", xm), yaxis=ref("y", ypn),
                                 marker=dict(size=8.5, color=COL[cname],
                                             line=dict(color="#333333", width=0.8))))
    fig.add_trace(go.Scatter(x=[P["lead"][0]], y=[P["lead"][1]], mode="markers",
                             xaxis=ref("x", xm), yaxis=ref("y", ypn),
                             marker=dict(symbol="diamond", size=11, color=COL["purple"],
                                         line=dict(color="#333333", width=0.8))))
    annos.append(dict(x=P["lead"][0], y=P["lead"][1], xref=ref("x", xm), yref=ref("y", ypn),
                      text=P["lead_name"], showarrow=False, yshift=14, xanchor="center", yanchor="middle",
                      font=dict(size=13, color="#111111", family=FONT)))

    # ---- right axis line (0..100) ----
    shapes.append(dict(type="line", xref="paper", yref=ref("y", yrn), x0=fx(R + 2.5), x1=fx(R + 2.5),
                       y0=0, y1=100, line=dict(color=BLUE, width=1.2), layer="above"))

    # ---- axis titles / panel letter ----
    annos.append(paper_text(8.5, (T + B) / 2, "\u2212log<sub>10</sub>(p\u2212value)", 12, GRAYTXT, angle=-90))
    annos.append(paper_text(662, (T + B) / 2, "Recombination rate (cM/Mb)", 12, BLUE, angle=90))
    annos.append(paper_text((L + R) / 2, P["title_y"], P["xtitle"], 12, GRAYTXT))
    annos.append(paper_text(P["letter_pos"][0], P["letter_pos"][1], P["letter"], 20, "black", bold=True))

    # ---- gene track ----
    names, strands, starts, ends, rows, labx, exons = P["genes"]
    gh = gb - gt
    xr = P["xr"]
    mbpp = (xr[1] - xr[0]) / (R - L)
    for nm, st, s, e, rw, lx, ex in zip(names, strands, starts, ends, rows, labx, exons):
        line_y = 1 - (16.7 + (rw - 1) * 23.3) / gh
        lab_y = 1 - (8.5 + (rw - 1) * 23.3) / gh
        half = 2.6 / gh
        s_c, e_c = max(s, xr[0]), min(e, xr[1])
        shapes.append(dict(type="line", xref=ref("x", xg), yref=ref("y", ygn), x0=s_c, x1=e_c,
                           y0=line_y, y1=line_y, line=dict(color=GENE, width=1.1)))
        for item in ex:
            if isinstance(item, tuple):
                a, b = item
            else:
                a, b = item, item
            if b - a < 1.4 * mbpp:
                c = (a + b) / 2
                a, b = c - 0.7 * mbpp, c + 0.7 * mbpp
            shapes.append(dict(type="rect", xref=ref("x", xg), yref=ref("y", ygn), x0=a, x1=b,
                               y0=line_y - half, y1=line_y + half, fillcolor=EXON,
                               line=dict(color=EXON, width=0.5)))
        txt = f"{nm}\u2192" if st == "+" else f"\u2190{nm}"
        annos.append(dict(x=lx, y=lab_y, xref=ref("x", xg), yref=ref("y", ygn), text=txt,
                          showarrow=False, xanchor="center", yanchor="middle",
                          font=dict(size=11, color="#222222", family=FONT, style="italic")))

    # ---- r2 legend ----
    bl, br, bt, bb = P["legend_box"]
    cl, cr, ct, cb = P["legend_col"]
    shapes.append(dict(type="rect", xref="paper", yref="paper", x0=fx(bl), x1=fx(br), y0=fy(bb), y1=fy(bt),
                       fillcolor="white", line=dict(color=BOX, width=1.3), layer="above"))
    blk = (cb - ct) / 5
    for k, cname in enumerate(["red", "orange", "green", "lblue", "navy"]):
        shapes.append(dict(type="rect", xref="paper", yref="paper", x0=fx(cl), x1=fx(cr),
                           y0=fy(ct + (k + 1) * blk), y1=fy(ct + k * blk), fillcolor=COL[cname],
                           line=dict(color="#555555", width=0.6), layer="above"))
    for k, lab in enumerate(R2_LABELS):
        yy = ct + (k + 1) * blk
        shapes.append(dict(type="line", xref="paper", yref="paper", x0=fx(cr), x1=fx(cr + 4),
                           y0=fy(yy), y1=fy(yy), line=dict(color="#555555", width=0.8), layer="above"))
        annos.append(paper_text(cr + 5, yy, lab, 10, GRAYTXT, xanchor="left"))
    annos.append(paper_text((cl + br) / 2 - 1, bt + 9, "r<sup>2</sup>", 12, GRAYTXT))

layout.update(dict(width=W, height=H, margin=dict(l=0, r=0, t=0, b=0), plot_bgcolor="white",
                   paper_bgcolor="white", showlegend=False, shapes=shapes, annotations=annos,
                   font=dict(family=FONT)))
fig.update_layout(**layout)
fig.write_html("out.html", config={"displayModeBar": False},
               post_script="document.body.style.margin='0';document.body.style.padding='0';"
                           "document.body.style.overflow='hidden';")
